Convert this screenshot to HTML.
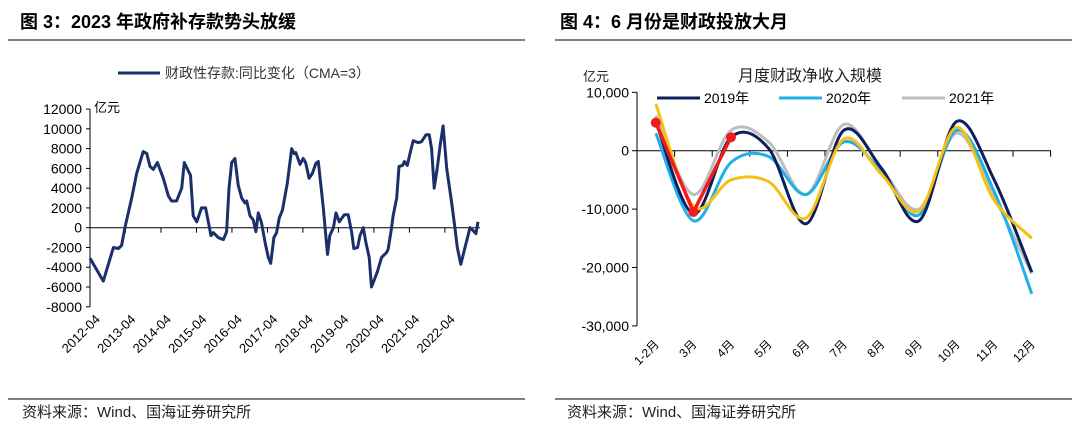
<!DOCTYPE html>
<html><head><meta charset="utf-8"><style>
body{margin:0;background:#fff;width:1080px;height:429px;overflow:hidden;font-family:"Liberation Sans","Noto Sans CJK SC",sans-serif}
svg text{font-family:"Liberation Sans","Noto Sans CJK SC",sans-serif}
</style></head><body>
<svg id="s" width="1080" height="429" xmlns="http://www.w3.org/2000/svg">
<text x="20" y="28" font-size="18" font-weight="bold" fill="#000">图 3：2023 年政府补存款势头放缓</text>
<text x="560" y="28" font-size="18" font-weight="bold" fill="#000">图 4：6 月份是财政投放大月</text>
<line x1="8" y1="40" x2="525" y2="40" stroke="#555" stroke-width="1.5"/>
<line x1="555" y1="40" x2="1072" y2="40" stroke="#555" stroke-width="1.5"/>
<line x1="8" y1="399" x2="525" y2="399" stroke="#555" stroke-width="1.5"/>
<line x1="555" y1="399" x2="1072" y2="399" stroke="#555" stroke-width="1.5"/>
<text x="22" y="417" font-size="15" fill="#222">资料来源：Wind、国海证券研究所</text>
<text x="567" y="417" font-size="15" fill="#222">资料来源：Wind、国海证券研究所</text>
<g id="L"></g><g id="R"></g>
</svg>
<script>
const NS="http://www.w3.org/2000/svg";
const leftMonths=[0,4.5,7.9,9.6,10.7,11.8,14.1,15.8,18.0,19.2,20.3,21.4,22.8,24.8,26.5,27.6,29.3,31.0,31.9,34.0,34.9,36.1,37.7,39.1,40.9,41.7,43.4,45.1,46.2,47.0,47.9,49.0,50.1,51.3,52.4,53.0,54.1,55.2,56.1,56.9,58.0,59.2,60.3,61.1,62.2,63.1,64.0,65.1,66.7,68.2,69.0,69.6,71.0,72.1,72.9,74.1,75.2,76.4,77.2,78.9,80.3,81.1,82.3,83.2,84.3,86.0,87.3,88.5,89.2,90.5,91.3,92.4,93.3,94.4,95.2,97.1,98.6,100.3,100.8,102.0,102.5,103.7,104.5,105.7,106.3,107.3,108.2,109.3,111.0,112.1,113.6,114.7,115.5,116.4,117.4,118.5,119.4,120.6,122.3,123.4,124.2,125.4,126.8,128.5,129.6,130.5,131.2];
const leftValues=[-3100,-5400,-2000,-2100,-1800,0,3000,5500,7700,7500,6200,5900,6600,5000,3200,2700,2700,4000,6600,5300,1200,600,2000,2000,-800,-500,-1000,-1200,-400,4000,6600,7000,4300,3000,2500,2700,1200,800,-400,1500,500,-1500,-3000,-3600,-1000,-500,1000,1800,4500,8000,7500,7600,6400,7000,6600,5000,5500,6500,6700,2000,-2700,-800,0,1500,600,1300,1300,-500,-2100,-2000,-800,0,-1500,-3000,-6000,-4500,-3000,-2500,-2200,0,1200,3000,6200,6300,6700,6300,7500,8800,8600,8700,9400,9400,8000,4000,6000,8500,10300,6000,2500,0,-2000,-3700,-2000,0,-300,-600,600];
const leftTicks=[12000,10000,8000,6000,4000,2000,0,-2000,-4000,-6000,-8000];
const leftLabels=["2012-04","2013-04","2014-04","2015-04","2016-04","2017-04","2018-04","2019-04","2020-04","2021-04","2022-04"];

const months=["1-2月","3月","4月","5月","6月","7月","8月","9月","10月","11月","12月"];
const s2019=[5000,-10800,2300,400,-12500,3500,-3000,-12000,5000,-5000,-20800];
const s2020=[3000,-12000,-2000,-1000,-7500,1500,-3500,-11000,3500,-7000,-24500];
const s2021=[6000,-7500,3500,1500,-7500,4500,-3000,-10000,3000,-8000,-21000];
const s2022=[8000,-9500,-5000,-5300,-11500,2000,-4000,-10300,4000,-8500,-15000];
const s2023=[4800,-10500,2300];
const rightTicks=[10000,0,-10000,-20000,-30000];
const rightTickLabels=["10,000","0","-10,000","-20,000","-30,000"];

function mk(tag,attrs,parent,txt){const e=document.createElementNS(NS,tag);for(const k in attrs)e.setAttribute(k,attrs[k]);if(txt!==undefined)e.textContent=txt;parent.appendChild(e);return e;}
const L=document.getElementById('L'),R=document.getElementById('R');

// LEFT
const lx=m=>90+m*(388/131.2);
const ly=v=>227.7-v/2000*19.77;
let e;
e=mk('line',{x1:90,y1:ly(12000),x2:90,y2:ly(-8000),stroke:'#000','stroke-width':1},L);


e=mk('line',{x1:90,y1:ly(0),x2:480,y2:ly(0),stroke:'#000','stroke-width':1},L);


leftTicks.forEach(t=>{
 e=mk('line',{x1:86,y1:ly(t),x2:90,y2:ly(t),stroke:'#000'},L);
 
 
 e=mk('text',{x:82,y:ly(t)+5,'font-size':14,'text-anchor':'end',fill:'#000'},L,String(t));
 
 
});
for(let k=1;k<=10;k++){
 e=mk('line',{x1:lx(k*12),y1:ly(0),x2:lx(k*12),y2:ly(0)+5,stroke:'#000'},L);
 
 
}
leftLabels.forEach((s,i)=>{
 const x=lx(i*12+3)+2,y=320;
 e=mk('text',{x:x,y:y,'font-size':13,'text-anchor':'end',fill:'#000',transform:`rotate(-45 ${x} ${y})`},L,s);
 
 
});
e=mk('text',{x:94,y:112,'font-size':13,fill:'#000'},L,'亿元');


e=mk('path',{d:leftMonths.map((m,i)=>(i?'L':'M')+lx(m).toFixed(1)+' '+ly(leftValues[i]).toFixed(1)).join(''),fill:'none',stroke:'#1c2f6b','stroke-width':3,'stroke-linejoin':'round'},L);


e=mk('line',{x1:118,y1:73,x2:160,y2:73,stroke:'#1c2f6b','stroke-width':3},L);


e=mk('text',{x:165,y:78,'font-size':14,fill:'#333'},L,'财政性存款:同比变化（CMA=3）');



// RIGHT
const bw=37.6;
const rx=i=>637+bw*(i+0.5);
const ry=v=>150.7-v/10000*58.4;
e=mk('line',{x1:637,y1:ry(10000),x2:637,y2:ry(-30000),stroke:'#000'},R);


e=mk('line',{x1:637,y1:ry(0),x2:1051,y2:ry(0),stroke:'#000'},R);


rightTicks.forEach((t,i)=>{
 e=mk('line',{x1:632,y1:ry(t),x2:637,y2:ry(t),stroke:'#000'},R);
 
 
 e=mk('text',{x:629,y:ry(t)+5,'font-size':14,'text-anchor':'end',fill:'#000'},R,rightTickLabels[i]);
 
 
});
months.forEach((m,i)=>{
 const xt=637+bw*(i+1);
 e=mk('line',{x1:xt,y1:ry(0),x2:xt,y2:ry(0)+6,stroke:'#000'},R);
 
 
 const x=rx(i)+4,y=345;
 e=mk('text',{x:x,y:y,'font-size':12,'text-anchor':'end',fill:'#000',transform:`rotate(-45 ${x} ${y})`},R,m);
 
 
});
function smooth(vals){
 const p=vals.map((v,i)=>[rx(i),ry(v)]);let d='M'+p[0][0]+' '+p[0][1];
 for(let i=0;i<p.length-1;i++){const a=p[i-1]||p[i],b=p[i],c=p[i+1],n=p[i+2]||c;
  const c1=[b[0]+(c[0]-a[0])/6,b[1]+(c[1]-a[1])/6],c2=[c[0]-(n[0]-b[0])/6,c[1]-(n[1]-b[1])/6];
  d+=`C${c1[0].toFixed(1)} ${c1[1].toFixed(1)} ${c2[0].toFixed(1)} ${c2[1].toFixed(1)} ${c[0].toFixed(1)} ${c[1].toFixed(1)}`;}
 return d;}
e=mk('path',{d:smooth(s2021),fill:'none',stroke:'#bdbdbd','stroke-width':3},R);


e=mk('path',{d:smooth(s2020),fill:'none',stroke:'#1fb0e8','stroke-width':3},R);


e=mk('path',{d:smooth(s2019),fill:'none',stroke:'#0e1f5c','stroke-width':3},R);


e=mk('path',{d:smooth(s2022),fill:'none',stroke:'#f7bf14','stroke-width':3},R);


e=mk('path',{d:s2023.map((v,i)=>(i?'L':'M')+rx(i)+' '+ry(v)).join(''),fill:'none',stroke:'#f01c1c','stroke-width':3.5},R);


s2023.forEach((v,i)=>{
 e=mk('circle',{cx:rx(i),cy:ry(v),r:5,fill:'#f01c1c'},R);
 
 
});
e=mk('text',{x:810,y:81,'font-size':16,'text-anchor':'middle',fill:'#222'},R,'月度财政净收入规模');


e=mk('text',{x:583,y:81,'font-size':13,fill:'#222'},R,'亿元');


[['#0e1f5c',657,'2019年'],['#1fb0e8',779,'2020年'],['#bdbdbd',902,'2021年']].forEach(l=>{
 e=mk('line',{x1:l[1],y1:98,x2:l[1]+43,y2:98,stroke:l[0],'stroke-width':3},R);
 
 
 e=mk('text',{x:l[1]+47,y:103,'font-size':14,fill:'#000'},R,l[2]);
 
 
});
</script>
</body></html>
